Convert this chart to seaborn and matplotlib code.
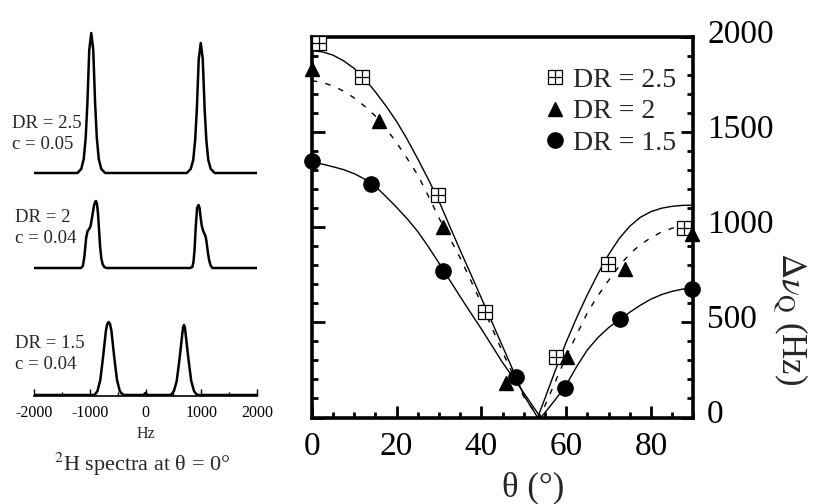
import matplotlib
matplotlib.use("Agg")
import matplotlib.pyplot as plt
import seaborn as sns
from matplotlib.lines import Line2D
from matplotlib.legend_handler import HandlerTuple
from matplotlib.ticker import MultipleLocator
from matplotlib.transforms import ScaledTranslation

# ---------------- data ----------------

# left panel: 2H spectra at theta = 0  (frequency in Hz, intensity above baseline)
spec25_hz = [-2000, -1223, -1153, -1108, -1073, -1042, -1009, -973, -937, -904, -873, -838, -793, -723,
             741, 811, 856, 891, 922, 955, 991, 1027, 1060, 1091, 1126, 1171, 1241, 2000]
spec25_int = [0, 0, 4, 14, 35, 70, 123, 140, 123, 70, 35, 14, 4, 0,
              0, 4, 13, 33, 65, 114, 130, 114, 65, 33, 13, 4, 0, 0]

spec20_hz = [-2000, -1160, -1123, -1095, -1065, -1039, -1010, -985, -960, -925, -905, -888, -870, -853,
             -835, -815, -793, -770, -740, -700,
             800, 841, 860, 880, 900, 925, 950, 970, 990, 1010, 1035, 1060, 1081, 1100, 1120, 1141,
             1165, 1200, 2000]
spec20_int = [0, 0, 2, 12, 30, 37, 39, 42, 50, 62, 66, 67, 64, 55,
              40, 22, 10, 4, 1, 0,
              0, 1, 6, 18, 40, 60, 63, 60, 50, 42, 37, 34, 31, 24, 15, 8,
              3, 0, 0]

spec15_hz = [-2000, -930, -900, -861, -811, -761, -711, -686, -661, -636, -611, -561, -511, -461, -420,
             -380, -40, 0, 40, 430, 470, 510, 560, 610, 660, 675, 690, 705, 720, 770, 820, 870, 910,
             950, 2000]
spec15_int = [0, 0, 1, 4, 15, 38, 64, 71, 73, 71, 64, 38, 15, 4, 1,
              0, 0, 2, 0, 0, 1, 4, 14, 36, 61, 68, 70, 68, 61, 36, 14, 4, 1,
              0, 0]

spec_labels = ["DR = 2.5\nc = 0.05", "DR = 2\nc = 0.04", "DR = 1.5\nc = 0.04"]

# right panel: quadrupolar splitting vs angle
theta_25 = [1.8, 11.9, 29.8, 40.8, 57.7, 69.9, 87.9]
dnu_25 = [1970, 1791, 1169, 556, 320, 807, 994]
theta_20 = [0, 15.9, 30.9, 45.8, 60.1, 73.8, 89.6]
dnu_20 = [1832, 1560, 1003, 180, 320, 780, 965]
theta_15 = [0, 14, 30.9, 48.1, 59.8, 72.8, 89.7]
dnu_15 = [1350, 1227, 770, 214, 153, 516, 674]

# fitted curves
fit_theta_25 = [0, 2.5, 5, 7.5, 10, 12.5, 15, 17.5, 20, 22.5, 25, 27.5, 30, 32.5, 35, 37.5, 40, 42.5,
                45, 47.5, 50, 53.3, 55, 57.5, 60, 62.5, 65, 67.5, 70, 72.5, 75, 77.5, 80, 82.5, 85,
                87.5, 90]
fit_25 = [1928, 1922, 1905, 1875, 1835, 1780, 1712, 1638, 1557, 1463, 1360, 1252, 1138, 1008, 880,
          755, 628, 502, 375, 247, 118, 0, 100, 250, 395, 525, 645, 755, 855, 940, 1005, 1052, 1082,
          1100, 1110, 1115, 1116]
fit_theta_20 = [0, 2.5, 5, 7.5, 10, 12.5, 15, 17.5, 20, 22.5, 25, 27.5, 30, 32.5, 35, 37.5, 40, 42.5,
                45, 47.5, 50, 53.6, 55, 57.5, 60, 62.5, 65, 67.5, 70, 72.5, 75, 77.5, 80, 82.5, 85,
                87.5, 90]
fit_20 = [1770, 1762, 1742, 1716, 1680, 1636, 1585, 1520, 1445, 1362, 1275, 1165, 1050, 945, 840,
          722, 600, 472, 345, 225, 110, 0, 62, 190, 320, 435, 550, 640, 720, 795, 860, 908, 945,
          975, 995, 1007, 1012]
fit_theta_15 = [0, 2.5, 5, 7.5, 10, 12.5, 15, 17.5, 20, 22.5, 25, 27.5, 30, 32.5, 35, 37.5, 40, 42.5,
                45, 47.5, 50, 54.0, 55, 57.5, 60, 62.5, 65, 67.5, 70, 72.5, 75, 77.5, 80, 82.5, 85,
                87.5, 90]
fit_15 = [1338, 1332, 1318, 1303, 1282, 1253, 1215, 1162, 1105, 1045, 978, 898, 812, 724, 636, 550,
          466, 378, 289, 210, 130, 0, 25, 95, 170, 268, 355, 420, 472, 513, 553, 590, 622, 646, 663,
          675, 680]

legend_labels = ["DR = 2.5", "DR = 2", "DR = 1.5"]

# ---------------- style ----------------
sns.set_theme(style="ticks")
plt.rcParams["font.family"] = ["Liberation Serif", "DejaVu Serif"]
plt.rcParams["mathtext.fontset"] = "stix"
plt.rcParams["axes.unicode_minus"] = False

W, H = 813, 504
fig = plt.figure(figsize=(W / 100, H / 100), dpi=100)


def px_box(x0, y0, x1, y1):
    # pixel box (top-left, bottom-right) -> figure rect
    return [x0 / W, 1 - y1 / H, (x1 - x0) / W, (y1 - y0) / H]


# ---------------- left panel: spectra ----------------
axs = fig.add_axes(px_box(34, 20, 257, 395.7))
offsets = [222.7, 127.7, 0.7]
spectra = [(spec25_hz, spec25_int), (spec20_hz, spec20_int), (spec15_hz, spec15_int)]
for (hz, inten), off in zip(spectra, offsets):
    sns.lineplot(x=hz, y=[v + off for v in inten], sort=False, estimator=None,
                 color="black", lw=1.8, ax=axs, legend=False)
axs.set_xlim(-2000, 2000)
axs.set_ylim(0, 375.7)
for s in ["top", "left", "right"]:
    axs.spines[s].set_visible(False)
axs.spines["bottom"].set_linewidth(1.2)
axs.spines["bottom"].set_color("black")
axs.set_yticks([])
axs.set_xticks([-2000, -1000, 0, 1000, 2000])
axs.xaxis.set_minor_locator(MultipleLocator(500))
axs.tick_params(axis="x", which="both", direction="in", width=1, colors="black",
                labelsize=11.5, pad=7)
axs.tick_params(axis="x", which="major", length=5)
axs.tick_params(axis="x", which="minor", length=3)
axs.set_xlabel("Hz", fontsize=11.5, labelpad=3)
axs.set_facecolor("none")

label_pos = [(12, 134), (15, 228), (15, 354)]
for txt, (lx, ly) in zip(spec_labels, label_pos):
    fig.text(lx / W, 1 - ly / H, txt, fontsize=13.5, ha="left", va="center", linespacing=1.25)

fig.text(142 / W, 1 - 464 / H, r"$^{2}$H spectra at θ = 0°", fontsize=16, ha="center", va="center")

# ---------------- right panel: splitting vs angle ----------------
ax = fig.add_axes(px_box(311.7, 37, 693.3, 417.5))

sns.lineplot(x=fit_theta_25, y=fit_25, sort=False, estimator=None, color="black", lw=1.0,
             ax=ax, legend=False)
sns.lineplot(x=fit_theta_20, y=fit_20, sort=False, estimator=None, color="black", lw=1.0,
             linestyle=(0, (4, 6)), ax=ax, legend=False)
sns.lineplot(x=fit_theta_15, y=fit_15, sort=False, estimator=None, color="black", lw=1.0,
             ax=ax, legend=False)

sq_style = dict(marker="s", ms=10.5, mfc="white", mec="black", mew=0.9, ls="none")
pl_style = dict(marker="+", ms=10.5, mec="black", mew=0.9, ls="none")
tri_style = dict(marker="^", ms=10.5, mfc="black", mec="black", ls="none")
cir_style = dict(marker="o", ms=11, mfc="black", mec="black", ls="none")

ax.plot(theta_25, dnu_25, clip_on=False, zorder=5, **sq_style)
ax.plot(theta_25, dnu_25, clip_on=False, zorder=6, **pl_style)
ax.plot(theta_20, dnu_20, clip_on=False, zorder=5, **tri_style)
ax.plot(theta_15, dnu_15, clip_on=False, zorder=5, **cir_style)

ax.set_xlim(0, 90)
ax.set_ylim(0, 2000)
ax.set_xticks([0, 20, 40, 60, 80])
ax.set_yticks([0, 500, 1000, 1500, 2000])
ax.xaxis.set_minor_locator(MultipleLocator(5))
ax.yaxis.set_minor_locator(MultipleLocator(100))

for s in ax.spines.values():
    s.set_linewidth(2.6)
    s.set_color("black")

ax.tick_params(axis="x", which="both", direction="in", top=False, bottom=True, width=2,
               labelsize=24, pad=10, colors="black")
ax.tick_params(axis="y", which="both", direction="in", left=True, right=True, width=2,
               labelleft=False, labelright=True, labelsize=24, pad=10, colors="black")
ax.tick_params(which="major", length=9)
ax.tick_params(which="minor", length=4)

# right-hand tick labels sit a little above their ticks
shift = ScaledTranslation(0, 6 / 100, fig.dpi_scale_trans)
for t in ax.yaxis.get_major_ticks():
    t.label2.set_transform(t.label2.get_transform() + shift)

ax.set_xlabel("θ (°)", fontsize=25, va="center")
ax.xaxis.set_label_coords(0.58, -0.185)
ax.set_ylabel(r"$\Delta\nu_{\rm Q}$ (Hz)", fontsize=25, rotation=270, va="center")
ax.yaxis.set_label_position("right")
ax.yaxis.set_label_coords(1.305, 0.26)

handles = [
    (Line2D([], [], **sq_style), Line2D([], [], **pl_style)),
    Line2D([], [], **tri_style),
    Line2D([], [], **cir_style),
]
ax.legend(handles, legend_labels, handler_map={tuple: HandlerTuple(ndivide=1)},
          loc="upper left", bbox_to_anchor=(0.6, 0.921), frameon=False, fontsize=20,
          handlelength=1.0, handletextpad=0.15, labelspacing=0.23, borderpad=0, borderaxespad=0)

fig.savefig("out.png", dpi=100)
